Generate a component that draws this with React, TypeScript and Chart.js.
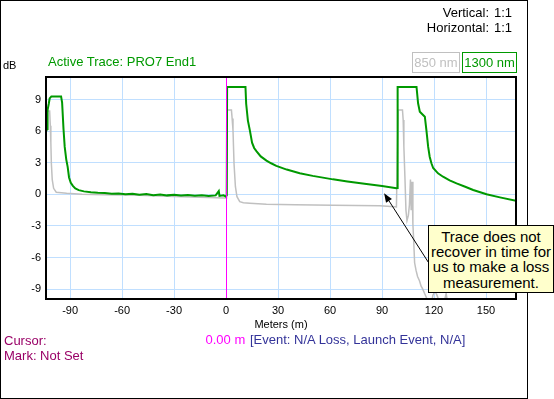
import React, { useEffect, useRef } from "react";
import { Chart, registerables } from "chart.js";

Chart.register(...registerables);

const FONT = '"Liberation Sans", Arial, Helvetica, sans-serif';

// Axis ranges and tick steps
const xRange = [-103.9, 167.3];
const yRange = [-9.94, 11.14];
const xStep = 30;
const yStep = 3;

// 1300 nm trace (active, green)
const trace1300X = [
  -103.8, -103.3, -103.0, -102.3, -101.8, -100.8, -95.2, -94.6, -93.8, -93.1, -92.2, -91.4, -90.6, -89.6,
  -88.4, -87.0, -85.0, -82.0, -78, -74, -70, -66, -62, -58, -54, -50, -46, -42, -38, -34, -30, -26, -22,
  -18, -14, -10, -6, -4.2, -3.8, -1.5, -0.2, 0.4, 0.6, 11.2, 11.6, 12.6, 13.7, 15.0, 16.2, 17.5, 20, 23.3,
  26, 29, 35, 42.5, 50, 61.7, 70, 81, 90, 98.3, 98.9, 99.0, 109.9, 110.8, 111.8, 113.1, 114.7, 115.6,
  116.6, 117.5, 118.5, 119.5, 122.3, 125.2, 129, 133, 138, 142.6, 150.3, 158, 167.3,
];
const trace1300Y = [
  6.0, 6.2, 8.0, 8.6, 9.1, 9.3, 9.3, 8.7, 6.2, 4.5, 3.3, 2.6, 1.6, 1.1,
  0.8, 0.55, 0.4, 0.28, 0.2, 0.15, 0.12, 0.05, 0.08, 0.0, 0.05, -0.05, 0.02, -0.08, -0.02, -0.1, -0.05, -0.12, -0.06,
  -0.14, -0.08, -0.16, -0.1, 0.3, -0.15, -0.1, -0.2, -0.1, 10.2, 10.2, 8.6, 7.0, 6.1, 4.9, 4.4, 4.1, 3.6, 3.2,
  2.95, 2.7, 2.35, 2.0, 1.75, 1.42, 1.22, 0.98, 0.78, 0.57, 0.6, 10.2, 10.2, 8.64, 7.85, 7.63, 7.37, 6.1,
  4.52, 3.57, 2.95, 2.5, 1.99, 1.67, 1.33, 1.04, 0.72, 0.41, 0.0, -0.29, -0.62,
];

// 850 nm trace (grey)
const trace850X = [
  -103.3, -101.8, -101.4, -101.1, -100.8, -100.3, -99.5, -98.0, -95, -92, -83, -70, -50, -30, -15, -0.8,
  0.3, 0.6, 3.1, 3.5, 4.0, 4.6, 5.4, 6.3, 7.9, 10, 13.7, 23.3, 40, 61.7, 88.7, 97.3, 98.3, 99.3, 101.8,
  102.2, 102.6, 103.2, 103.8, 104.4, 105.2, 105.8, 106.4, 106.8, 107.3, 107.8, 108.3, 108.8, 109.6, 110.5,
  111.6, 112.5, 113.5, 114.5, 115.6, 116.5, 118.0, 119.3, 120.5, 121.5, 122.2, 123, 125.5, 127, 128, 130,
  167.3,
];
const trace850Y = [
  7.9, 7.9, 6.5, 4.9, 2.9, 1.4, 0.57, 0.2, 0.15, 0.1, 0.0, -0.05, -0.1, -0.2, -0.28, -0.35,
  -0.35, 8.0, 8.0, 7.2, 6.1, 2.9, 0.72, -0.23, -0.7, -0.8, -0.85, -0.95, -1.0, -1.04, -1.08, -1.17, -1.2, 8.0, 8.0,
  7.06, 4.52, 1.67, -1.5, -2.5, -2.0, -1.0, 1.4, -1.5, 1.2, -2.8, -4.5, -6.5, -7.2, -7.8,
  -8.2, -8.7, -9.0, -9.4, -9.8, -10.5, -11, -9.6, -9.2, -9.5, -9.8, -11, -10.5, -9.4, -10.5, -12,
  -12,
];

const cursorPosition = 0;
// annotation arrow (data coordinates): tip and tail
const arrowTip = [91.2, 0.1];
const arrowTail = [117.1, -6.55];

const GREEN = "#009900";
const GREY = "#c0c0c0";

const overlayPlugin = {
  id: "otdrOverlay",
  afterDatasetsDraw(chart: any) {
    const { ctx, chartArea: a, scales } = chart;
    const xs = scales.x;
    const ys = scales.y;
    ctx.save();
    // cursor line
    const cx = Math.round(xs.getPixelForValue(cursorPosition)) + 0.5;
    ctx.strokeStyle = "#ff00ff";
    ctx.lineWidth = 1;
    ctx.beginPath();
    ctx.moveTo(cx, a.top);
    ctx.lineTo(cx, a.bottom);
    ctx.stroke();
    // plot frame
    ctx.strokeStyle = "#000";
    ctx.lineWidth = 2;
    ctx.strokeRect(a.left, a.top, a.right - a.left, a.bottom - a.top);
    // arrow
    const tx = xs.getPixelForValue(arrowTip[0]);
    const ty = ys.getPixelForValue(arrowTip[1]);
    const sx = xs.getPixelForValue(arrowTail[0]);
    const sy = ys.getPixelForValue(arrowTail[1]);
    const ang = Math.atan2(ty - sy, tx - sx);
    const len = 9;
    const hw = 3.5;
    const bx = tx - len * Math.cos(ang);
    const by = ty - len * Math.sin(ang);
    ctx.strokeStyle = "#000";
    ctx.lineWidth = 1;
    ctx.beginPath();
    ctx.moveTo(sx, sy);
    ctx.lineTo(bx, by);
    ctx.stroke();
    ctx.fillStyle = "#000";
    ctx.beginPath();
    ctx.moveTo(tx, ty);
    ctx.lineTo(bx + hw * Math.sin(ang), by - hw * Math.cos(ang));
    ctx.lineTo(bx - hw * Math.sin(ang), by + hw * Math.cos(ang));
    ctx.closePath();
    ctx.fill();
    ctx.restore();
  },
};

function Txt(props: { left?: number; top: number; width?: number; align?: any; size?: number; lh?: number; color?: string; children: any }) {
  const { left = 0, top, width, align = "left", size = 13, lh = 15, color = "#000", children } = props;
  return (
    <div
      style={{
        position: "absolute",
        left,
        top,
        width,
        textAlign: align,
        fontSize: size,
        lineHeight: lh + "px",
        color,
        whiteSpace: "nowrap",
        fontFamily: FONT,
        zIndex: 3,
      }}
    >
      {children}
    </div>
  );
}

export default function App() {
  const ref = useRef<HTMLCanvasElement>(null);

  useEffect(() => {
    const canvas = ref.current;
    if (!canvas) return;
    const chart = new Chart(canvas, {
      type: "line",
      data: {
        datasets: [
          {
            label: "1300 nm",
            data: trace1300X.map((x, i) => ({ x, y: trace1300Y[i] })),
            borderColor: GREEN,
            borderWidth: 2,
            pointRadius: 0,
            tension: 0,
            fill: false,
            order: 0,
            clip: 0,
          },
          {
            label: "850 nm",
            data: trace850X.map((x, i) => ({ x, y: trace850Y[i] })),
            borderColor: GREY,
            borderWidth: 1.5,
            pointRadius: 0,
            tension: 0,
            fill: false,
            order: 1,
            clip: 0,
          },
        ],
      },
      options: {
        animation: false,
        responsive: false,
        devicePixelRatio: 1,
        events: [],
        layout: { padding: { left: 0, top: 77, right: 38, bottom: 0 } },
        plugins: { legend: { display: false }, tooltip: { enabled: false } },
        scales: {
          x: {
            type: "linear",
            min: xRange[0],
            max: xRange[1],
            afterFit: (s: any) => {
              s.height = 100;
            },
            border: { display: false },
            grid: { color: "#c0dfff", lineWidth: 1, drawTicks: false },
            ticks: {
              stepSize: xStep,
              includeBounds: false,
              padding: 5,
              color: "#000",
              font: { family: FONT, size: 11 },
              maxRotation: 0,
              autoSkip: false,
            },
            title: {
              display: true,
              text: "Meters (m)",
              color: "#000",
              font: { family: FONT, size: 11 },
              padding: { top: 0, bottom: 67 },
            },
          },
          y: {
            type: "linear",
            min: yRange[0],
            max: yRange[1],
            afterFit: (s: any) => {
              s.width = 46;
            },
            border: { display: false },
            grid: { color: "#c0dfff", lineWidth: 1, drawTicks: false },
            ticks: {
              stepSize: yStep,
              includeBounds: false,
              padding: 5,
              color: "#000",
              font: { family: FONT, size: 11 },
              autoSkip: false,
            },
          },
        },
      },
      plugins: [overlayPlugin],
    } as any);
    return () => chart.destroy();
  }, []);

  return (
    <div style={{ position: "relative", width: 554, height: 399, overflow: "hidden", background: "#fff", fontFamily: FONT }}>
      <style>{"body{margin:0}"}</style>
      <canvas ref={ref} width={554} height={399} style={{ position: "absolute", left: 0, top: 0, zIndex: 1 }} />
      <div
        style={{
          position: "absolute",
          left: 0,
          top: 0,
          width: 528,
          height: 399,
          border: "1px solid #000",
          boxSizing: "border-box",
          zIndex: 2,
          pointerEvents: "none",
        }}
      />
      <Txt left={380} width={109} align="right" top={5}>Vertical:</Txt>
      <Txt left={494} top={5}>1:1</Txt>
      <Txt left={380} width={109} align="right" top={20}>Horizontal:</Txt>
      <Txt left={494} top={20}>1:1</Txt>
      <Txt left={3} top={58.5} size={11} lh={13}>dB</Txt>
      <Txt left={48} top={54.2} color={GREEN}>Active Trace: PRO7 End1</Txt>
      <div
        style={{
          position: "absolute",
          left: 412,
          top: 52,
          width: 48,
          height: 21,
          border: "1px solid " + GREY,
          boxSizing: "border-box",
          color: GREY,
          fontSize: 13,
          lineHeight: "19px",
          textAlign: "center",
          zIndex: 3,
          fontFamily: FONT,
        }}
      >
        850 nm
      </div>
      <div
        style={{
          position: "absolute",
          left: 462,
          top: 52,
          width: 55,
          height: 21,
          border: "1px solid " + GREEN,
          boxSizing: "border-box",
          color: GREEN,
          fontSize: 13,
          lineHeight: "19px",
          textAlign: "center",
          zIndex: 3,
          fontFamily: FONT,
        }}
      >
        1300 nm
      </div>
      <Txt left={4} top={332.5} color="#990066">Cursor:</Txt>
      <Txt left={4} top={348} color="#990066">Mark: Not Set</Txt>
      <Txt left={205.5} top={331.5} color="#ff00ff">0.00 m</Txt>
      <Txt left={250} top={331.5} color="#333399">[Event: N/A Loss, Launch Event, N/A]</Txt>
      <div
        style={{
          position: "absolute",
          left: 428,
          top: 225,
          width: 126,
          height: 68,
          border: "1px solid #000",
          boxSizing: "border-box",
          background: "#ffffcc",
          color: "#000",
          fontSize: 15,
          lineHeight: "15.2px",
          paddingTop: 3,
          textAlign: "center",
          zIndex: 4,
          fontFamily: FONT,
          whiteSpace: "nowrap",
        }}
      >
        Trace does not
        <br />
        recover in time for
        <br />
        us to make a loss
        <br />
        measurement.
      </div>
    </div>
  );
}
